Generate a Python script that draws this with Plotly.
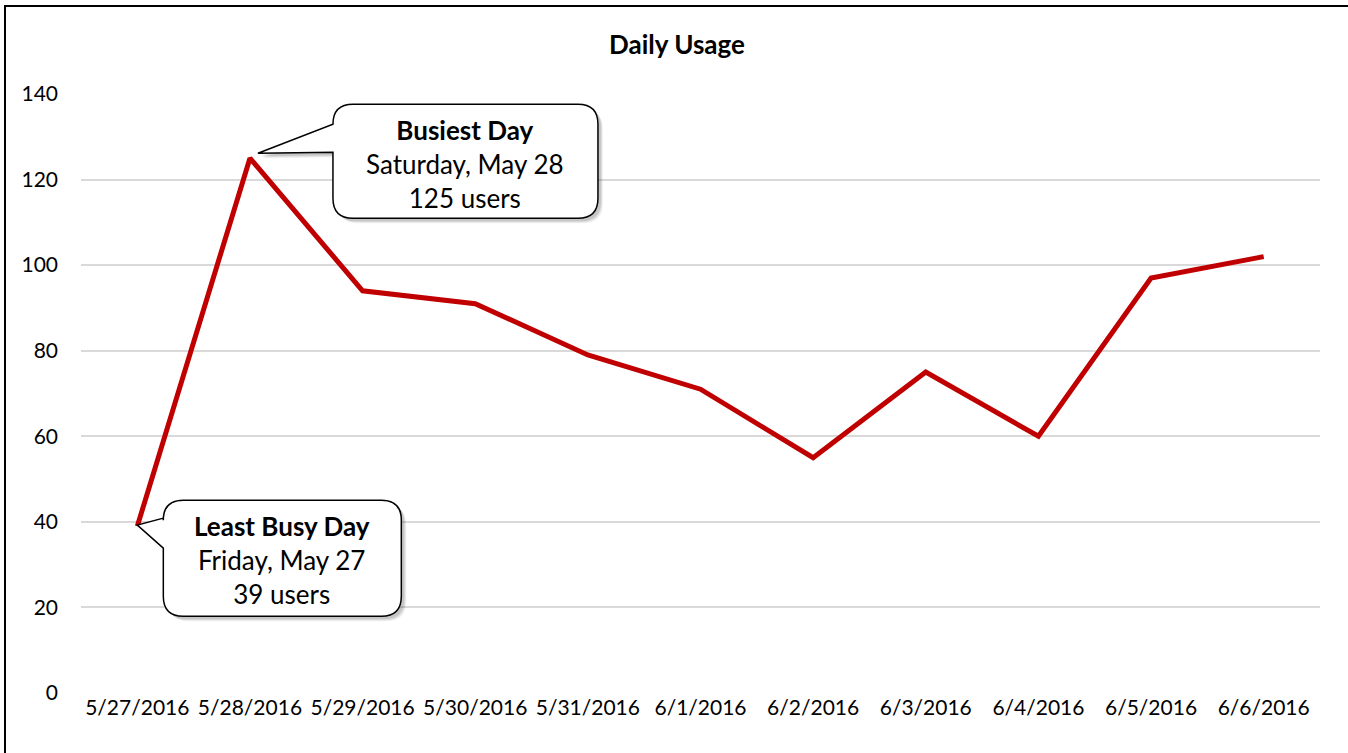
import plotly.graph_objects as go

dates = ["5/27/2016", "5/28/2016", "5/29/2016", "5/30/2016", "5/31/2016", "6/1/2016",
         "6/2/2016", "6/3/2016", "6/4/2016", "6/5/2016", "6/6/2016"]
users = [39, 125, 94, 91, 79, 71, 55, 75, 60, 97, 102]
y_ticks = [0, 20, 40, 60, 80, 100, 120, 140]

FONT = "Lato"
W, H = 1348, 753

fig = go.Figure()
fig.add_trace(go.Scatter(
    x=list(range(len(dates))), y=users, mode="lines",
    line=dict(color="#C00000", width=5), hoverinfo="skip", showlegend=False))


def rounded_box_path(x0, x1, ytop, ybot, r, py_top, py_bot, tipx, tipy):
    # pixel coords, y positive upward; pointer on left edge
    return (f"M {x0+r},{ytop} L {x1-r},{ytop} Q {x1},{ytop} {x1},{ytop-r} "
            f"L {x1},{ybot+r} Q {x1},{ybot} {x1-r},{ybot} "
            f"L {x0+r},{ybot} Q {x0},{ybot} {x0},{ybot+r} "
            f"L {x0},{py_bot} L {tipx},{tipy} L {x0},{py_top} "
            f"L {x0},{ytop-r} Q {x0},{ytop} {x0+r},{ytop} Z")


def callout(xi, yv, geom, text, tx, ty):
    path = rounded_box_path(*geom)
    common = dict(type="path", xref="x", yref="y", xsizemode="pixel", ysizemode="pixel",
                  xanchor=xi, yanchor=yv, layer="above")
    for k, a in ((5, 0.06), (4, 0.08), (3, 0.10)):
        sh = rounded_box_path(geom[0]+k, geom[1]+k, geom[2]-k, geom[3]-k, geom[4],
                              geom[5]-k, geom[6]-k, geom[7]+k, geom[8]-k)
        fig.add_shape(path=sh, fillcolor=f"rgba(0,0,0,{a})", line=dict(width=0), **common)
    fig.add_shape(path=path, fillcolor="white", line=dict(color="black", width=1.5), **common)
    fig.add_annotation(x=xi, y=yv, xref="x", yref="y", xshift=tx, yshift=ty,
                       text=text, showarrow=False, align="center",
                       font=dict(family=FONT, size=26, color="black"))


# Busiest day callout (anchored at data point index 1)
callout(1, users[1], (83, 348, 54, -60, 20, 34, 6, 8, 5),
        "<b>Busiest Day</b><br>Saturday, May 28<br>125 users", 215, -6)
# Least busy callout (anchored at data point index 0)
callout(0, users[0], (26, 264, 26, -90, 20, 8, -22, 0, 1),
        "<b>Least Busy Day</b><br>Friday, May 27<br>39 users", 145, -34)

ML, MR, MT, MB = 81, 28, 94, 60
pw, ph = W - ML - MR, H - MT - MB
# outer chart border: only left and top edges are visible in the frame
bx0, bx1 = (5 - ML) / pw, (W + 5 - ML) / pw
by0, by1 = -(MB + 5) / ph, 1 + (MT - 6) / ph
fig.add_shape(type="path", xref="paper", yref="paper",
              path=f"M {bx0},{by0} L {bx0},{by1} L {bx1},{by1}",
              line=dict(color="black", width=2), fillcolor="rgba(0,0,0,0)", layer="above")

fig.update_layout(
    width=W, height=H,
    margin=dict(l=ML, r=MR, t=MT, b=MB),
    paper_bgcolor="white", plot_bgcolor="white",
    font=dict(family=FONT, size=21, color="black"),
    title=dict(text="<b>Daily Usage</b>", x=677 / W, xanchor="center",
               y=1 - 45 / H, yanchor="middle",
               font=dict(family=FONT, size=26, color="black")),
    xaxis=dict(range=[-0.5, len(dates) - 0.5], tickmode="array",
               tickvals=list(range(len(dates))), ticktext=dates,
               showgrid=False, zeroline=False, showline=False, ticks="",
               tickfont=dict(family=FONT, size=21, color="black")),
    yaxis=dict(range=[0, 140], tickmode="array", tickvals=y_ticks,
               showgrid=True, gridcolor="#d9d9d9", gridwidth=1.5, zeroline=False,
               showline=False, ticks="", ticklabelstandoff=22,
               tickfont=dict(family=FONT, size=21, color="black")),
)

fig.write_html("out.html", config={"displayModeBar": False},
               post_script="document.body.style.margin='0';document.body.style.overflow='hidden';")
